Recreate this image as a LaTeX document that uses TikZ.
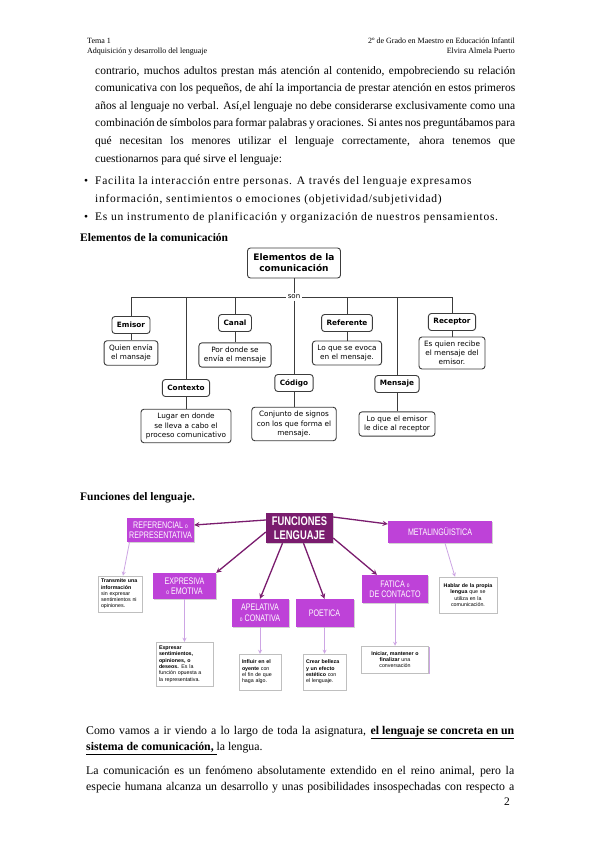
\documentclass[tikz,border=0pt]{standalone}
\usepackage{fontspec}
\setmainfont{Liberation Serif}
\newfontfamily\dejavu{DejaVu Sans}
\newfontfamily\arial{Liberation Sans}
\newfontfamily\narrow[FakeStretch=0.75]{Liberation Sans}
\usepackage[usenames,dvipsnames]{xcolor}
\usetikzlibrary{calc,shadows}

\definecolor{funcdark}{RGB}{122,28,110}
\definecolor{funcbox}{RGB}{190,66,216}
\definecolor{funclight}{RGB}{205,165,228}
\definecolor{mapline}{RGB}{60,60,60}

\newcommand{\smallo}{{\fontsize{6.5}{6.5}\selectfont o}}

\tikzset{
  hdr/.style={font=\fontsize{8}{9}\selectfont, inner sep=0pt},
  body/.style={font=\fontsize{11.5}{13}\selectfont, inner sep=0pt},
  bodyb/.style={font=\fontsize{11.8}{13}\selectfont, inner sep=0pt},
  bullet/.style={body, font=\fontsize{11.5}{13}\selectfont\addfontfeature{LetterSpace=6.5}},
  head/.style={font=\bfseries\fontsize{11.5}{13}\selectfont, inner sep=0pt},
  mapln/.style={draw=mapline, line width=0.9pt},
  mapbox/.style={draw=mapline, line width=0.9pt, rounded corners=3pt, fill=white, align=center},
  lbl/.style={mapbox, font=\dejavu\bfseries\fontsize{7.3}{9}\selectfont, inner xsep=5pt, inner ysep=0pt, minimum height=17pt},
  desc/.style={mapbox, font=\dejavu\fontsize{7.3}{9.2}\selectfont, inner xsep=5pt, inner ysep=4pt},
  fnbox/.style={fill=funcbox, text=white, font=\narrow\fontsize{9.5}{10.5}\selectfont, align=center, inner sep=0pt,
    drop shadow={opacity=0.35, shadow xshift=1pt, shadow yshift=-1pt}},
  fdesc/.style={draw=black!25, fill=white, line width=0.5pt, font=\arial\fontsize{5.3}{6.3}\selectfont, inner sep=3pt,
    drop shadow={fill=funclight, opacity=1, shadow xshift=1.2pt, shadow yshift=-1.2pt}},
  darr/.style={draw=funcdark, line width=1.3pt, -stealth},
  larr/.style={draw=funclight, line width=0.8pt, -stealth},
}

\begin{document}
\begin{tikzpicture}[x=1pt,y=-1pt]
  \fill[white] (0,0) rectangle (600,848);
  \useasboundingbox (0,0) rectangle (600,848);

  % cabecera
  \node[hdr, anchor=base west] (tema) at (87,44) {Tema 1};
  \node[hdr, anchor=base west] (asig) at (87,54) {Adquisición y desarrollo del lenguaje};
  \node[hdr, anchor=base east] (curso) at (515,44) {2º de Grado en Maestro en Educación Infantil};
  \node[hdr, anchor=base east] (autora) at (515,54) {Elvira Almela Puerto};

  % texto
  \foreach \y/\txt [count=\i] in {
      74.5/{contrario, muchos adultos prestan más atención al contenido, empobreciendo su relación},
      92/{comunicativa con los pequeños, de ahí la importancia de prestar atención en estos primeros},
      109.5/{años al lenguaje no verbal. Así,el lenguaje no debe considerarse exclusivamente como una},
      127/{combinación de símbolos para formar palabras y oraciones. Si antes nos preguntábamos para},
      144.5/{qué necesitan los menores utilizar el lenguaje correctamente, ahora tenemos que}}
    \node[body, anchor=base west] (par\i) at (95,\y) {\makebox[420pt][s]{\txt}};
  \node[body, anchor=base west] (par6) at (95,162) {cuestionarnos para qué sirve el lenguaje:};

  \node[body, anchor=base west] (bul1) at (84,184.5) {\textbullet};
  \node[bullet, anchor=base west] (bul1a) at (95,184.5) {Facilita la interacción entre personas. A través del lenguaje expresamos};
  \node[bullet, anchor=base west] (bul1b) at (95,202) {información, sentimientos o emociones (objetividad/subjetividad)};
  \node[body, anchor=base west] (bul2) at (84,220.5) {\textbullet};
  \node[bullet, anchor=base west] (bul2a) at (95,220.5) {Es un instrumento de planificación y organización de nuestros pensamientos.};

  % elementos de la comunicacion
  \node[head, anchor=base west] (elemtit) at (80,241) {Elementos de la comunicación};

  \node[mapbox, font=\dejavu\bfseries\fontsize{9}{11}\selectfont, inner xsep=6pt, minimum height=30pt] (elem) at (294,263) {Elementos de la\\comunicación};
  \node[fill=white, font=\dejavu\fontsize{7}{8}\selectfont, inner sep=1.5pt] (son) at (294,297) {son};

  \node[lbl] (emisor) at (131,325) {Emisor};
  \node[desc] (emisor-d) at (131,353) {Quien envía\\el mansaje};
  \node[lbl] (contexto) at (186,388) {Contexto};
  \node[desc] (contexto-d) at (186,426) {Lugar en donde\\se lleva a cabo el\\proceso comunicativo};
  \node[lbl] (canal) at (235,323) {Canal};
  \node[desc] (canal-d) at (235,355) {Por donde se\\envía el mensaje};
  \node[lbl] (codigo) at (294,383) {Código};
  \node[desc] (codigo-d) at (294,424) {Conjunto de signos\\con los que forma el\\mensaje.};
  \node[lbl] (referente) at (347,323) {Referente};
  \node[desc] (referente-d) at (347,353) {Lo que se evoca\\en el mensaje.};
  \node[lbl] (mensaje) at (397,384) {Mensaje};
  \node[desc] (mensaje-d) at (397,424) {Lo que el emisor\\le dice al receptor};
  \node[lbl] (receptor) at (452,322) {Receptor};
  \node[desc] (receptor-d) at (452,353) {Es quien recibe\\el mensaje del\\emisor.};

  \draw[mapln] (elem) -- (son);
  \draw[mapln] (son) -- (codigo);
  \foreach \n in {emisor,contexto,canal}
    \draw[mapln] (\n) |- (son.west);
  \foreach \n in {referente,mensaje,receptor}
    \draw[mapln] (\n) |- (son.east);
  \foreach \n in {emisor,contexto,canal,codigo,referente,mensaje,receptor}
    \draw[mapln] (\n) -- (\n-d);

  % funciones del lenguaje
  \node[head, anchor=base west] (funtit) at (80,500) {Funciones del lenguaje.};

  \node[fnbox, fill=funcdark, font=\narrow\bfseries\fontsize{12.5}{13.5}\selectfont, minimum width=67pt, minimum height=30pt] (fun) at (299.5,528) {FUNCIONES\\LENGUAJE};
  \node[fnbox, minimum width=67pt, minimum height=24pt] (ref) at (160.5,530) {REFERENCIAL \smallo\\REPRESENTATIVA};
  \node[fnbox, minimum width=104pt, minimum height=22pt] (meta) at (440,532) {METALINGÜISTICA};
  \node[fnbox, minimum width=63pt, minimum height=26pt] (expr) at (184.5,586) {EXPRESIVA\\\smallo\ EMOTIVA};
  \node[fnbox, minimum width=57pt, minimum height=28pt] (apel) at (260,613) {APELATIVA\\\smallo\ CONATIVA};
  \node[fnbox, minimum width=58pt, minimum height=28pt] (poet) at (324.5,613) {POETICA};
  \node[fnbox, minimum width=66pt, minimum height=28pt] (fat) at (395,589) {FATICA \smallo\\DE CONTACTO};

  \node[fdesc, text width=38pt, minimum height=36pt, align=left] (ref-d) at (120,594) {\bfseries Transmite una\\información\\\mdseries sin expresar\\sentimientos ni\\opiniones.};
  \node[fdesc, text width=51pt, minimum height=44pt, align=left] (expr-d) at (184.5,664) {\bfseries Expresar\\sentimientos,\\opiniones, o\\deseos. \mdseries Es la\\función opuesta a\\la representativa.};
  \node[fdesc, text width=36pt, minimum height=36pt, align=left] (apel-d) at (260,672) {\bfseries Influir en el\\oyente \mdseries con\\el fin de que\\haga algo.};
  \node[fdesc, text width=37pt, minimum height=36pt, align=left] (poet-d) at (324.5,672) {\bfseries Crear belleza\\y un efecto\\estético \mdseries con\\el lenguaje.};
  \node[fdesc, text width=61pt, minimum height=27pt, align=center] (fat-d) at (395,659.5) {\bfseries Iniciar, mantener o\\finalizar \mdseries una\\conversación};
  \node[fdesc, text width=52pt, minimum height=36pt, align=center] (meta-d) at (468,595) {\bfseries Hablar de la propia\\lengua \mdseries que se\\utiliza en la\\comunicación.};

  \draw[darr] ([yshift=8pt]fun.west) -- ([yshift=5pt]ref.east);
  \draw[darr] ([yshift=11pt]fun.east) -- ([yshift=8pt]meta.west);
  \draw[darr] ([yshift=-4pt]fun.west) -- (expr.north east);
  \draw[darr] ([xshift=-17pt]fun.south) -- (apel.north);
  \draw[darr] ([xshift=4pt]fun.south) -- (poet.north);
  \draw[darr] ([yshift=-10pt]fun.east) -- ([xshift=-18pt]fat.north);

  \draw[larr] ([xshift=-31pt]ref.south) -- ([xshift=3pt]ref-d.north);
  \foreach \n in {expr,apel,poet,fat}
    \draw[larr] (\n) -- (\n-d);
  \draw[larr] ([xshift=5pt]meta.south) -- ([xshift=-13pt]meta-d.north);

  % texto final
  \node[bodyb, anchor=base west] (fin1) at (86,734.5) {\makebox[428pt][s]{Como vamos a ir viendo a lo largo de toda la asignatura, \underline{\textbf{el lenguaje se concreta en un}}}};
  \node[bodyb, anchor=base west] (fin2) at (86,750.5) {\underline{\textbf{sistema de comunicación,}\ }la lengua.};
  \node[bodyb, anchor=base west] (fin3) at (86,774) {\makebox[428pt][s]{La comunicación es un fenómeno absolutamente extendido en el reino animal, pero la}};
  \node[bodyb, anchor=base west] (fin4) at (86,790.5) {\makebox[428pt][s]{especie humana alcanza un desarrollo y unas posibilidades insospechadas con respecto a}};
  \node[body, anchor=base east] (pag) at (510,805) {2};
\end{tikzpicture}
\end{document}
